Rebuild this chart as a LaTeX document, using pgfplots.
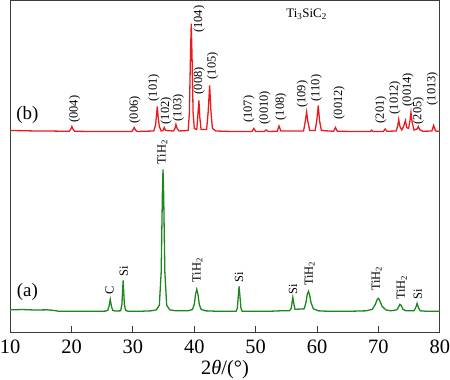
\documentclass[border=0pt]{standalone}
\usepackage{fontspec}
\setmainfont{Liberation Serif}
\usepackage{pgfplots}
\pgfplotsset{compat=1.18}
\definecolor{xrdred}{RGB}{232,28,30}
\definecolor{xrdgreen}{RGB}{28,135,28}
\definecolor{axgray}{RGB}{60,60,60}
\begin{document}
\begin{tikzpicture}
\begin{axis}[
  width=430bp, height=332bp, scale only axis,
  xmin=10, xmax=80, ymin=0, ymax=332,
  xtick={10,20,...,80}, ytick=\empty,
  tick pos=bottom, tick align=inside,
  major tick length=6bp,
  axis line style={axgray, line width=1.2bp},
  every tick/.style={axgray, line width=1bp},
  /pgf/number format/assume math mode=true,
  tick label style={font=\fontsize{20.5}{22}\selectfont},
  xticklabel style={inner sep=0pt, anchor=north, yshift=-7bp},
  xlabel={2\textit{θ}/(°)},
  xlabel style={font=\fontsize{20.5}{22}\selectfont, at={(axis description cs:0.5,0)}, anchor=north, inner sep=0pt, yshift=-28bp},
  clip=false,
]
% (a) green pattern
\addplot[xrdgreen, line width=1.3bp] coordinates {
(10,22.5) (12,22.8) (14,22.3) (16,22.5) (17,22) (18,21) (20,21) (22,21) (24,21) (25.5,21.2)
(25.9,22) (26.1,26) (26.3,33) (26.5,26) (26.7,22) (27.1,21.3)
(28.0,21.5) (28.2,28) (28.3,40) (28.4,52) (28.5,40) (28.6,28) (28.8,22) (29.2,21)
(31,21) (33,21.5) (33.8,22.5) (34.3,27) (34.6,60) (34.8,140) (34.9,163) (35.0,140) (35.2,60) (35.5,27) (36,22.5) (37,21.5) (39,21.5)
(39.7,23) (40.0,28) (40.2,38) (40.4,43) (40.6,38) (40.8,28) (41.1,23) (41.8,21.5)
(44,21) (46.8,21) (47.0,24) (47.15,35) (47.3,46) (47.45,35) (47.6,24) (47.8,21) (50,21) (52,21) (54,21.5) (55.5,21.5)
(55.8,24) (55.95,31) (56.05,35) (56.2,29) (56.4,23)
(57.9,23.5) (58.2,30) (58.4,38) (58.6,41) (58.8,37) (59.0,30) (59.4,23.5) (60.2,21.5)
(62,21) (65,21) (68,21.5) (69.0,23) (69.5,28) (69.8,33) (70.0,34) (70.2,32) (70.6,26) (71.2,22.5) (72,21.5)
(73,22.5) (73.3,25.5) (73.5,28) (73.7,27) (74.0,23) (74.5,21.5) (75.8,21.5) (76.1,25) (76.3,29) (76.5,25) (76.8,21.5) (78,21) (80,21)
};
% (b) red pattern
\addplot[xrdred, line width=1.3bp] coordinates {
(10,202) (12,201.8) (14,201.5) (16,201.5) (18,201.3) (19.6,201.2) (19.85,203) (20.05,206) (20.25,203) (20.5,201.2)
(23,201) (26,201) (29.8,201) (30.05,203) (30.2,205) (30.4,202.5) (30.7,201)
(33.4,201.5) (33.7,208) (33.85,218) (33.97,226) (34.1,216) (34.3,206) (34.6,201.5)
(34.9,202) (35.1,205) (35.3,202) (36.6,201.5) (36.85,204) (37.0,208) (37.2,204) (37.5,201.5)
(39.0,202) (39.2,220) (39.35,270) (39.5,309) (39.65,270) (39.8,220) (40.0,204)
(40.4,203) (40.55,215) (40.75,232) (40.9,215) (41.1,203) (42.0,203) (42.25,220) (42.5,247) (42.7,222) (42.95,204) (43.5,201.5)
(46,201) (49.4,201) (49.7,204) (50.0,201) (51.4,201) (51.7,202.5) (52,201) (53.5,201.2) (53.8,206.5) (54.1,201.5)
(57.8,201.5) (58.05,210) (58.3,220.5) (58.5,211) (58.8,202) (59.7,202) (59.95,212) (60.2,227) (60.4,212) (60.7,202)
(62.7,201.2) (63.0,205) (63.3,201.2) (66,201) (68.7,201) (68.9,202.3) (69.1,201) (70.8,201) (71.1,203.5) (71.4,201.2)
(72.9,201.5) (73.15,207) (73.3,213) (73.5,206) (73.8,202.5) (74.1,206) (74.4,212) (74.6,205) (74.9,204) (75.1,210) (75.3,220) (75.5,210) (75.8,202.5)
(76.3,203.5) (76.5,206) (76.7,203) (77.2,201.2) (78.7,201.5) (79.0,207) (79.3,201.5) (80,201)
};
% sample labels
\node[font=\fontsize{19}{21}\selectfont, anchor=center] at (axis cs:12.8,218) {(b)};
\node[font=\fontsize{19}{21}\selectfont, anchor=center] at (axis cs:12.8,40) {(a)};
\node[font=\fontsize{13}{15}\selectfont, anchor=center] at (axis cs:58.3,318) {Ti\textsubscript{3}SiC\textsubscript{2}};
% red hkl labels
\begin{scope}[every node/.style={rotate=90, anchor=west, inner sep=0pt, font=\fontsize{12.5}{14}\selectfont}]
\node at (axis cs:20.5,209.7) {(004)};
\node at (axis cs:30.3,209) {(006)};
\node at (axis cs:33.4,231) {(101)};
\node at (axis cs:35.4,208) {(102)};
\node at (axis cs:37.4,211) {(103)};
\node at (axis cs:40.8,299.7) {(104)};
\node at (axis cs:40.8,238) {(008)};
\node at (axis cs:43.0,253) {(105)};
\node at (axis cs:48.9,209.7) {(107)};
\node at (axis cs:51.5,208) {(0010)};
\node at (axis cs:54.1,212) {(108)};
\node at (axis cs:57.6,224.7) {(109)};
\node at (axis cs:59.9,231) {(110)};
\node at (axis cs:63.6,213) {(0012)};
\node at (axis cs:70.4,209) {(201)};
\node at (axis cs:72.7,218) {(1012)};
\node at (axis cs:74.8,226) {(0014)};
\node at (axis cs:76.5,208) {(205)};
\node at (axis cs:78.8,227) {(1013)};
% green phase labels
\node at (axis cs:26.2,38) {C};
\node at (axis cs:28.5,55.7) {Si};
\node at (axis cs:34.8,168) {TiH\textsubscript{2}};
\node at (axis cs:40.5,49.7) {TiH\textsubscript{2}};
\node at (axis cs:47.3,49.7) {Si};
\node at (axis cs:56.1,38) {Si};
\node at (axis cs:58.8,46.3) {TiH\textsubscript{2}};
\node at (axis cs:69.7,41.3) {TiH\textsubscript{2}};
\node at (axis cs:73.8,32.3) {TiH\textsubscript{2}};
\node at (axis cs:76.4,33) {Si};
\end{scope}
\end{axis}
\end{tikzpicture}
\end{document}
